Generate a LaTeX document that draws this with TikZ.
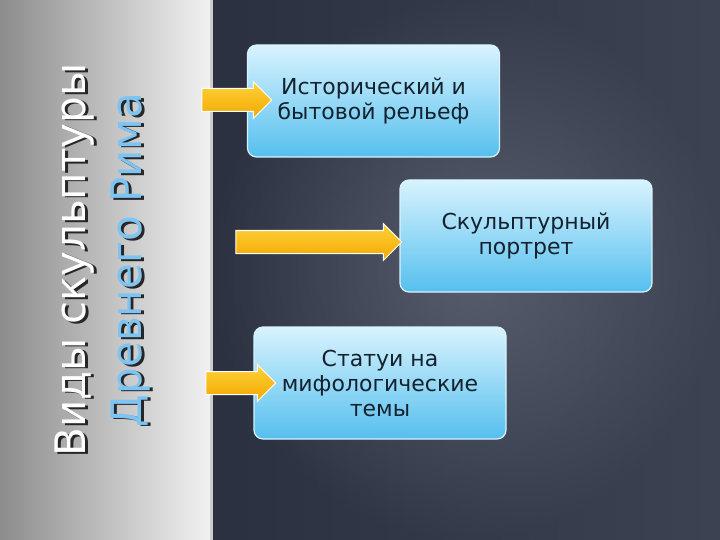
\documentclass[tikz,border=0pt]{standalone}
\usepackage{fontspec}
\setmainfont{DejaVu Sans}
\usetikzlibrary{shapes.arrows}
\definecolor{bgdark}{HTML}{2B3140}
\definecolor{bgmid}{HTML}{4E5566}
\definecolor{boxtop}{HTML}{D8F3FE}
\definecolor{boxbot}{HTML}{55BFEE}
\definecolor{boxtxt}{HTML}{14212E}
\definecolor{arrA}{HTML}{FFD23A}
\definecolor{arrB}{HTML}{F2A800}
\definecolor{titleblue}{HTML}{7EC4F2}
\tikzset{
  card/.style={rounded corners=9pt, draw=boxtop, line width=1.2pt, top color=boxtop, bottom color=boxbot, minimum width=252pt, minimum height=112pt, align=center, text=boxtxt, font=\fontsize{22}{25}\selectfont},
  arr/.style={single arrow, draw=white, line width=1pt, top color=arrA, bottom color=arrB, single arrow head extend=7pt, minimum height=#1, inner xsep=0pt, inner ysep=11pt, single arrow head indent=0pt},
  ttl/.style={rotate=90, font=\fontsize{42}{44}\selectfont}
}
\begin{document}
\begin{tikzpicture}[x=1pt,y=-1pt]
\useasboundingbox (0,0) rectangle (720,540);
\shade[left color=bgdark, right color=bgmid] (212,0) rectangle (720,540);
\shade[inner color=bgmid!80!white, outer color=bgdark, opacity=0.5] (212,0) rectangle (720,540);
\shade[left color=black!45, right color=black!5] (0,0) rectangle (212,540);
\fill[white!80!black] (210,0) rectangle (213,540);
\node[ttl, text=black!85] at (77.5,261.5) {Виды скульптуры};
\node[ttl, text=white] (t1) at (75,260) {Виды скульптуры};
\node[ttl, text=black!85] at (133.5,261.5) {Древнего Рима};
\node[ttl, text=titleblue] (t2) at (131,260) {Древнего Рима};
\node[card] (b1) at (373.5,101) {Исторический и\\бытовой рельеф};
\node[card] (b2) at (526,236) {Скульптурный\\портрет};
\node[card] (b3) at (380,383) {Статуи на\\мифологические\\темы};
\node[arr=70pt] (a1) at (231,100) {};
\node[arr=166pt] (a2) at (313,242) {};
\node[arr=70pt] (a3) at (235,383) {};
\end{tikzpicture}
\end{document}
